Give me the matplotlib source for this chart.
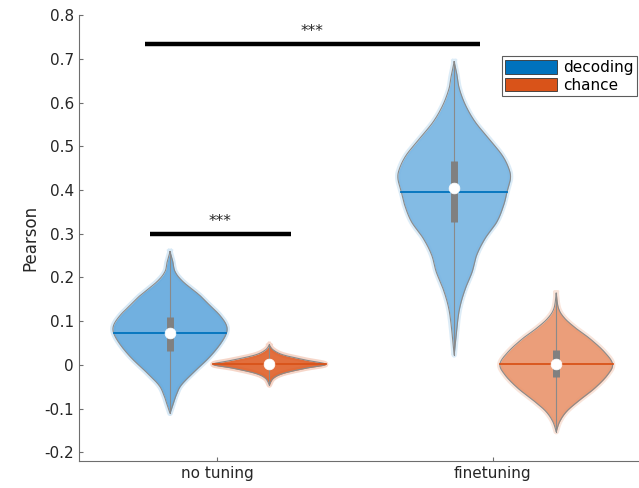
import numpy as np
import matplotlib
matplotlib.use("Agg")
import matplotlib.pyplot as plt
from matplotlib.patches import Patch

# ---------------- data ----------------
categories = ["no tuning", "finetuning"]
series = ["decoding", "chance"]

# violin profiles: y values and relative half-widths
nt_dec_y = [0.2591, 0.2362, 0.2133, 0.1905, 0.1600, 0.1371, 0.1142, 0.0913, 0.0722, 0.0455,
            0.0150, -0.0155, -0.0460, -0.0689, -0.0918, -0.1108]
nt_dec_w = [0.0, 0.05, 0.09, 0.23, 0.52, 0.70, 0.88, 1.0, 1.0, 0.88, 0.68, 0.43, 0.20, 0.11, 0.05, 0.0]
nt_cha_y = [0.0455, 0.0341, 0.0227, 0.0112, 0.0013, -0.0078, -0.0193, -0.0307, -0.0460]
nt_cha_w = [0.0, 0.07, 0.25, 0.64, 1.0, 0.64, 0.25, 0.07, 0.0]
ft_dec_y = [0.6939, 0.6634, 0.6329, 0.5947, 0.5566, 0.5185, 0.4803, 0.4498, 0.4269, 0.3964,
            0.3659, 0.3278, 0.2896, 0.2515, 0.2133, 0.1752, 0.1371, 0.0989, 0.0227]
ft_dec_w = [0.0, 0.05, 0.09, 0.20, 0.37, 0.61, 0.85, 0.97, 1.0, 0.94, 0.88, 0.76, 0.55, 0.40,
            0.32, 0.20, 0.11, 0.06, 0.0]
ft_cha_y = [0.1638, 0.1295, 0.1066, 0.0837, 0.0608, 0.0303, 0.0021, -0.0231, -0.0536, -0.0841,
            -0.1070, -0.1299, -0.1528]
ft_cha_w = [0.0, 0.04, 0.15, 0.35, 0.59, 0.85, 1.0, 0.91, 0.68, 0.38, 0.18, 0.06, 0.0]

medians = [0.072, 0.001, 0.4055, 0.002]
means = [0.072, 0.001, 0.396, 0.002]
q1 = [0.032, -0.008, 0.3278, -0.027]
q3 = [0.110, 0.008, 0.4666, 0.034]

# significance bars: (x start, x end, y)
sig_bars = [(0.739, 1.953, 0.734), (0.757, 1.268, 0.299)]
sig_labels = ["***", "***"]

# ---------------- styling / positions ----------------
positions = [0.83, 1.19, 1.86, 2.23]
profiles = [(nt_dec_y, nt_dec_w), (nt_cha_y, nt_cha_w), (ft_dec_y, ft_dec_w), (ft_cha_y, ft_cha_w)]
face_cols = ["#62a8dd", "#df5f28", "#76b4e2", "#e9946c"]
line_cols = ["#0072BD", "#D95319", "#0072BD", "#D95319"]
max_hw = 0.204


def catmull(y, w, n=20):
    y = np.asarray(y, float); w = np.asarray(w, float)
    P = np.column_stack([y, w])
    P = np.vstack([P[0], P, P[-1]])
    out = []
    for i in range(1, len(P) - 2):
        p0, p1, p2, p3 = P[i - 1], P[i], P[i + 1], P[i + 2]
        t = np.linspace(0, 1, n, endpoint=False)[:, None]
        pts = 0.5 * ((2 * p1) + (-p0 + p2) * t + (2 * p0 - 5 * p1 + 4 * p2 - p3) * t ** 2
                     + (-p0 + 3 * p1 - 3 * p2 + p3) * t ** 3)
        out.append(pts)
    out.append(P[-2][None, :])
    out = np.vstack(out)
    out[:, 1] = np.clip(out[:, 1], 0, None)
    return out[:, 0], out[:, 1]


plt.rcParams['font.family'] = ['DejaVu Sans']
fig = plt.figure(figsize=(6.39, 4.88), dpi=100)
ax = fig.add_axes([0.1236, 0.0553, 0.8764, 0.9133])

for i, (pos, (py, pw)) in enumerate(zip(positions, profiles)):
    yy, ww = catmull(py, pw)
    hw = ww * max_hw
    ox = np.r_[pos - hw, (pos + hw)[::-1]]
    oy = np.r_[yy, yy[::-1]]
    # soft halo (scatter fuzz)
    ax.plot(ox, oy, color=face_cols[i], lw=4, alpha=0.25, zorder=1.5)
    ax.fill_betweenx(yy, pos - hw, pos + hw, color=face_cols[i], alpha=0.9, lw=0, zorder=2)
    ax.plot(ox, oy, color="#8a8a8a", lw=0.8, zorder=3)
    # whisker
    ax.plot([pos, pos], [min(py), max(py)], color="#8a8a8a", lw=0.8, zorder=3)
    # mean line
    order = np.argsort(yy)
    w_at = np.interp(means[i], yy[order], hw[order])
    ax.plot([pos - w_at, pos + w_at], [means[i], means[i]], color=line_cols[i], lw=1.3, zorder=4)
    # box
    ax.plot([pos, pos], [q1[i], q3[i]], color="#808080", lw=5, solid_capstyle="butt", zorder=5)
    # median
    ax.scatter([pos], [medians[i]], s=60, color="white", edgecolor="white", lw=0.5, zorder=6)

for (x0, x1, y), lab in zip(sig_bars, sig_labels):
    ax.plot([x0, x1], [y, y], color="black", lw=3.2, solid_capstyle="butt", zorder=5)
    ax.text((x0 + x1) / 2, y + 0.012, lab, ha="center", va="bottom", fontsize=11, color="#262626")

ax.set_xlim(0.5, 2.53)
ax.set_ylim(-0.22, 0.8)
ax.set_xticks([1, 2])
ax.set_xticklabels(categories)
ax.set_yticks(np.arange(-0.2, 0.81, 0.1))
ax.set_yticklabels(["-0.2", "-0.1", "0", "0.1", "0.2", "0.3", "0.4", "0.5", "0.6", "0.7", "0.8"])
ax.set_ylabel("Pearson", fontsize=12, color="#262626")
for s in ["top", "right"]:
    ax.spines[s].set_visible(False)
for s in ["left", "bottom"]:
    ax.spines[s].set_color("#6e6e6e")
    ax.spines[s].set_linewidth(0.8)
ax.tick_params(direction="in", length=3, color="#6e6e6e", labelsize=11, labelcolor="#262626")

handles = [Patch(facecolor="#0072BD", edgecolor="#333333", lw=0.6),
           Patch(facecolor="#D95319", edgecolor="#333333", lw=0.6)]
leg = ax.legend(handles, series, loc="upper right", bbox_to_anchor=(0.9964, 0.908), fontsize=11,
                frameon=True, fancybox=False, edgecolor="#333333", handlelength=3.4, handleheight=1.0,
                handletextpad=0.35, borderpad=0.25, labelspacing=0.15, borderaxespad=0)
leg.get_frame().set_linewidth(0.8)

fig.savefig("out.png", dpi=100)
